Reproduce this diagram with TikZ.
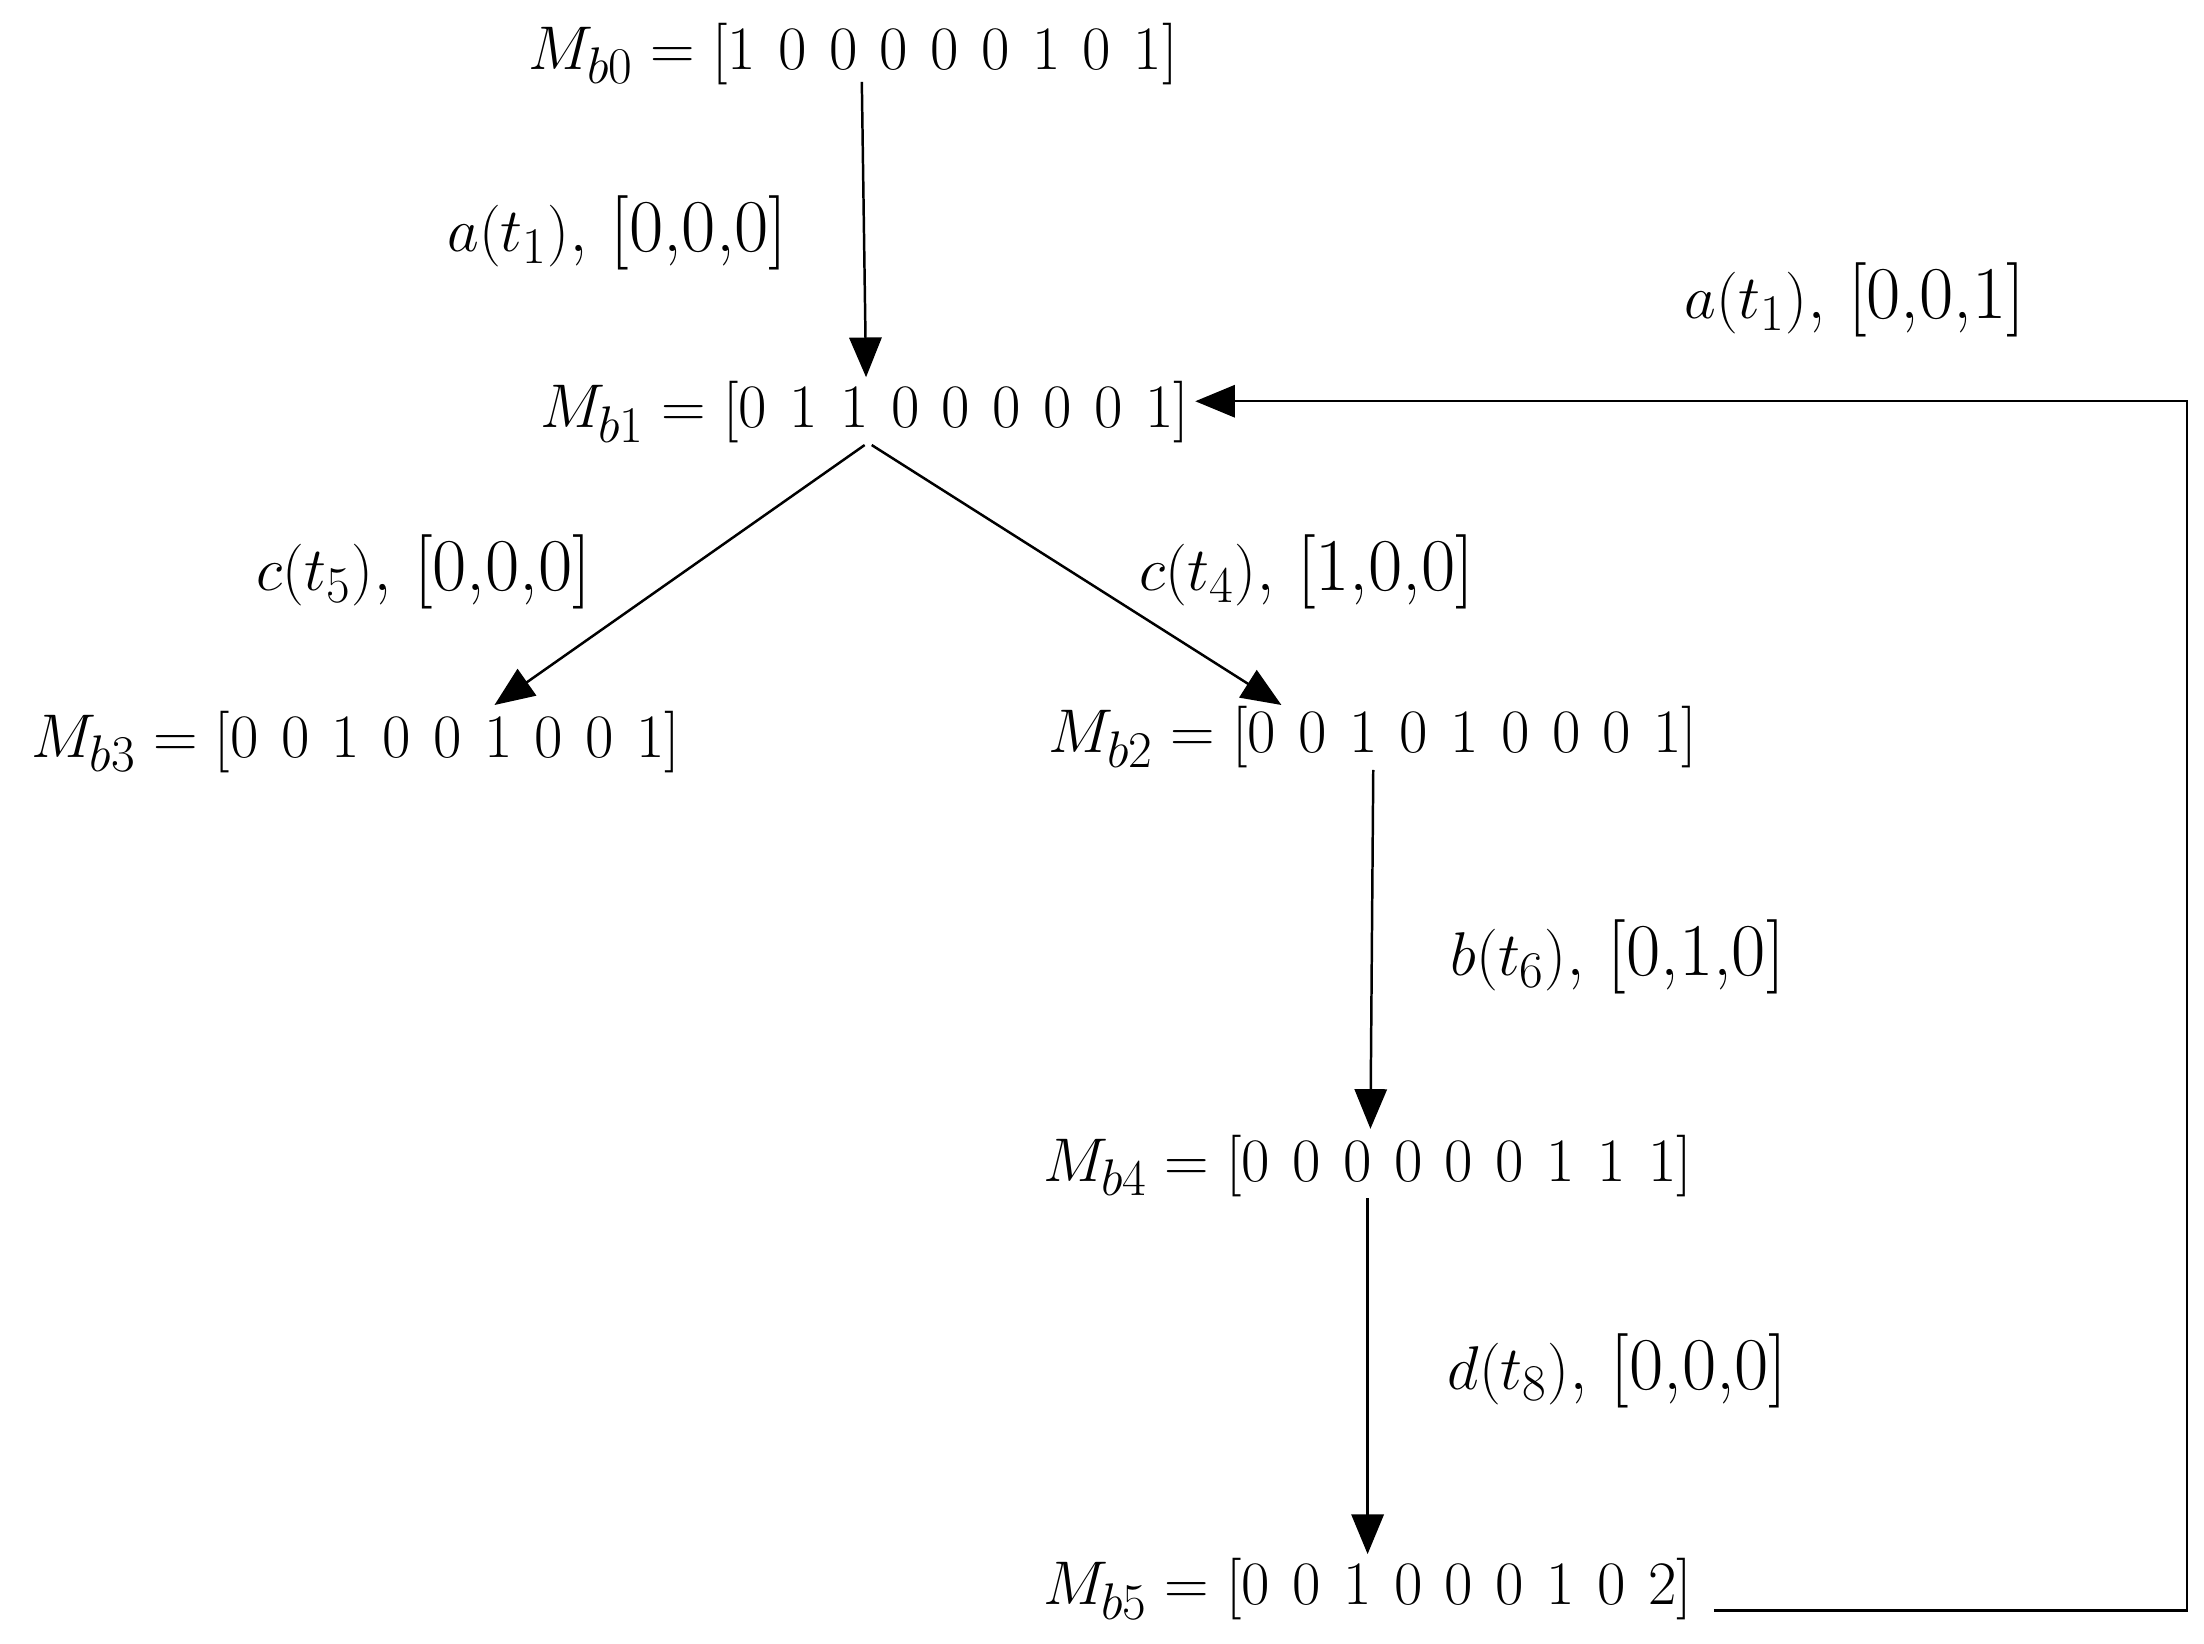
\documentclass[tikz,border=0pt]{standalone}
\usetikzlibrary{arrows.meta}
\begin{document}
\begin{tikzpicture}[x=0.02cm,y=-0.02cm,
  lbl/.style={font=\fontsize{30}{36}\selectfont, inner sep=0pt},
  ar/.style={-{Triangle[length=16pt,width=13pt]}, line width=1pt}]
\useasboundingbox (0,0) rectangle (1560,1163);
\node[lbl] (m0) at (604,38) {$M_{b0}=[1\ 0\ 0\ 0\ 0\ 0\ 1\ 0\ 1]$};
\node[lbl] (m1) at (612,292) {$M_{b1}=[0\ 1\ 1\ 0\ 0\ 0\ 0\ 0\ 1]$};
\node[lbl] (m3) at (252,525) {$M_{b3}=[0\ 0\ 1\ 0\ 0\ 1\ 0\ 0\ 1]$};
\node[lbl] (m2) at (972,522) {$M_{b2}=[0\ 0\ 1\ 0\ 1\ 0\ 0\ 0\ 1]$};
\node[lbl] (m4) at (968,825) {$M_{b4}=[0\ 0\ 0\ 0\ 0\ 0\ 1\ 1\ 1]$};
\node[lbl] (m5) at (968,1125) {$M_{b5}=[0\ 0\ 1\ 0\ 0\ 0\ 1\ 0\ 2]$};
\node[lbl] (l1) at (437,165) {$a(t_1)$, [0,0,0]};
\node[lbl] (l2) at (300,405) {$c(t_5)$, [0,0,0]};
\node[lbl] (l3) at (925,405) {$c(t_4)$, [1,0,0]};
\node[lbl] (l4) at (1145,677) {$b(t_6)$, [0,1,0]};
\node[lbl] (l5) at (1145,970) {$d(t_8)$, [0,0,0]};
\node[lbl] (l6) at (1313,212) {$a(t_1)$, [0,0,1]};
\coordinate (s0) at (610,58); \coordinate (e0) at (613,267);
\coordinate (s1a) at (612,315); \coordinate (e1a) at (350,499);
\coordinate (s1b) at (617,315); \coordinate (e1b) at (907,499);
\coordinate (s2) at (972,545); \coordinate (e2) at (970,799);
\coordinate (s4) at (968,848); \coordinate (e4) at (968,1100);
\coordinate (s5) at (1213,1140); \coordinate (c1) at (1548,1140);
\coordinate (c2) at (1548,284); \coordinate (e5) at (846,284);
\draw[ar] (s0) -- (e0);
\draw[ar] (s1a) -- (e1a);
\draw[ar] (s1b) -- (e1b);
\draw[ar] (s2) -- (e2);
\draw[ar] (s4) -- (e4);
\draw[ar] (s5) -- (c1) -- (c2) -- (e5);
\end{tikzpicture}
\end{document}
